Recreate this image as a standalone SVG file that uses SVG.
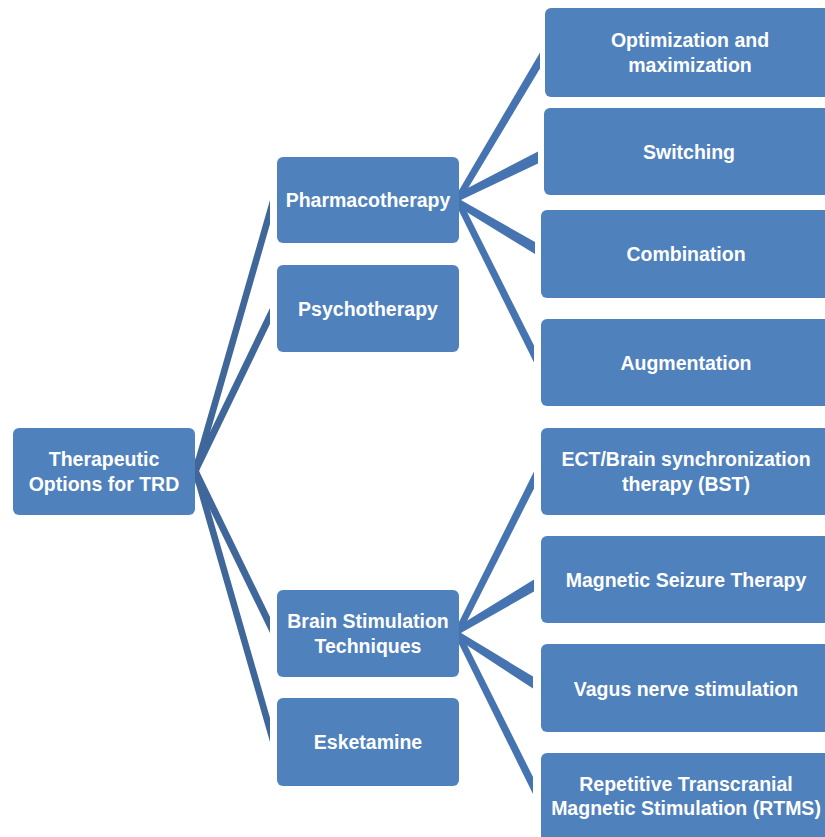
<svg xmlns="http://www.w3.org/2000/svg" width="825" height="837" viewBox="0 0 825 837">
<style>
.box{fill:#4f81bd}
.t{font-family:"Liberation Sans",Arial,sans-serif;font-weight:bold;font-size:19.5px;fill:#ffffff;text-anchor:middle}
.c1{fill:#3f6799}
.c2{fill:#4674b0}
</style>
<rect width="825" height="837" fill="#ffffff"/>
<g id="connectors">
<polygon class="c1" points="190,502.3 270,224 270,200 190,478.3"/>
<polygon class="c1" points="190,489.6 270,324 270,308 190,473.6"/>
<polygon class="c1" points="190,452.5 270,617 270,633 190,468.5"/>
<polygon class="c1" points="190,439.7 270,718 270,742 190,463.7"/>
<polygon class="c2" points="452,215 540,68.5 540,52.5 452,202.3"/>
<polygon class="c2" points="452,204.3 538,163.5 538,151.5 452,196.2"/>
<polygon class="c2" points="452,194.9 535,242 535,254 452,203"/>
<polygon class="c2" points="452,182.1 534,345.5 534,362.5 452,196.8"/>
<polygon class="c2" points="452,650.8 534,488.5 534,471.5 452,636.1"/>
<polygon class="c2" points="452,638.1 534,591.5 534,579.5 452,630"/>
<polygon class="c2" points="452,627.6 533,676.5 533,688.5 452,635.6"/>
<polygon class="c2" points="452,615 533,777 533,794 452,629.8"/>
</g>
<g id="root">
<rect class="box" x="13" y="428" width="182" height="87" rx="6"/>
<text class="t" x="104" y="466">Therapeutic</text>
<text class="t" x="104" y="490.5">Options for TRD</text>
</g>
<g id="pharmacotherapy">
<rect class="box" x="277" y="157" width="182" height="86" rx="6"/>
<text class="t" x="368" y="207">Pharmacotherapy</text>
</g>
<g id="psychotherapy">
<rect class="box" x="277" y="265" width="182" height="87" rx="6"/>
<text class="t" x="368" y="315.5">Psychotherapy</text>
</g>
<g id="brain-stimulation">
<rect class="box" x="277" y="590" width="182" height="87" rx="6"/>
<text class="t" x="368" y="628">Brain Stimulation</text>
<text class="t" x="368" y="652.5">Techniques</text>
</g>
<g id="esketamine">
<rect class="box" x="277" y="698" width="182" height="88" rx="6"/>
<text class="t" x="368" y="749">Esketamine</text>
</g>
<g id="optimization">
<rect class="box" x="545" y="8" width="291" height="89" rx="6"/>
<text class="t" x="690" y="46.5">Optimization and</text>
<text class="t" x="690" y="71.5">maximization</text>
</g>
<g id="switching">
<rect class="box" x="544" y="108" width="292" height="87" rx="6"/>
<text class="t" x="689" y="158.5">Switching</text>
</g>
<g id="combination">
<rect class="box" x="541" y="210" width="295" height="88" rx="6"/>
<text class="t" x="686" y="261">Combination</text>
</g>
<g id="augmentation">
<rect class="box" x="541" y="319" width="295" height="87" rx="6"/>
<text class="t" x="686" y="369.5">Augmentation</text>
</g>
<g id="ect">
<rect class="box" x="541" y="428" width="295" height="87" rx="6"/>
<text class="t" x="686" y="466">ECT/Brain synchronization</text>
<text class="t" x="686" y="490.5">therapy (BST)</text>
</g>
<g id="magnetic-seizure">
<rect class="box" x="541" y="536" width="295" height="87" rx="6"/>
<text class="t" x="686" y="586.5">Magnetic Seizure Therapy</text>
</g>
<g id="vagus">
<rect class="box" x="541" y="644" width="295" height="88" rx="6"/>
<text class="t" x="686" y="695.5">Vagus nerve stimulation</text>
</g>
<g id="rtms">
<rect class="box" x="541" y="753" width="295" height="92" rx="6"/>
<text class="t" x="686" y="791">Repetitive Transcranial</text>
<text class="t" x="686" y="815">Magnetic Stimulation (RTMS)</text>
</g>
</svg>
